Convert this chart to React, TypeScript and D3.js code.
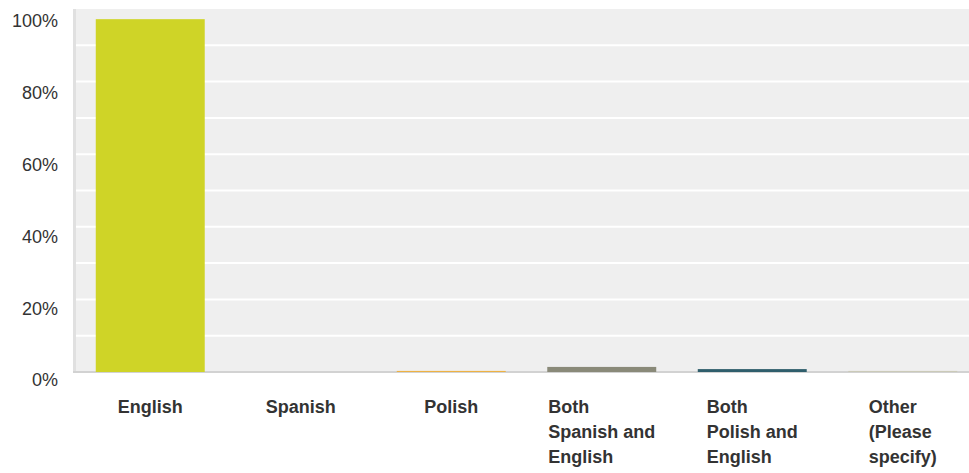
import React from 'react'
import * as d3 from 'd3'

const categories = ['English', 'Spanish', 'Polish', 'Both Spanish and English', 'Both Polish and English', 'Other (Please specify)']
const labelLines = [['English'], ['Spanish'], ['Polish'], ['Both', 'Spanish and', 'English'], ['Both', 'Polish and', 'English'], ['Other', '(Please', 'specify)']]
const values = [97.2, 0, 0.3, 1.4, 0.8, 0.3]
const colors = ['#cfd427', '#c9c9c9', '#eeb243', '#8a8a79', '#2f5e6c', '#cbcab8']
const yTicks = [0, 20, 40, 60, 80, 100]
const gridTicks = [10, 20, 30, 40, 50, 60, 70, 80, 90]

const width = 969
const height = 473

const App: React.FunctionComponent = () => {
  const svgRef = React.useRef<SVGSVGElement>(null)

  React.useEffect(() => {
    const svg = d3.select(svgRef.current)
    svg.selectAll('*').remove()

    const plot = { left: 73, right: 969, top: 9, bottom: 372 }

    const x = d3
      .scaleBand<string>()
      .domain(categories)
      .range([75, 978])
      .paddingInner(0.276)
      .paddingOuter(0.138)

    const y = d3.scaleLinear().domain([0, 100]).range([plot.bottom, plot.top])
    // tick labels sit a little below their gridlines
    const yLabel = d3.scaleLinear().domain([0, 100]).range([380, 21])

    svg
      .append('rect')
      .attr('x', plot.left)
      .attr('y', plot.top)
      .attr('width', plot.right - plot.left)
      .attr('height', plot.bottom - plot.top)
      .attr('fill', '#efefef')

    svg
      .append('g')
      .selectAll('line')
      .data(gridTicks)
      .join('line')
      .attr('x1', plot.left + 3)
      .attr('x2', plot.right)
      .attr('y1', d => y(d))
      .attr('y2', d => y(d))
      .attr('stroke', '#ffffff')
      .attr('stroke-width', 2)

    svg
      .append('line')
      .attr('x1', plot.left + 1.5)
      .attr('x2', plot.left + 1.5)
      .attr('y1', plot.top)
      .attr('y2', plot.bottom)
      .attr('stroke', '#e0e0e0')
      .attr('stroke-width', 3)

    svg
      .append('line')
      .attr('x1', plot.left)
      .attr('x2', plot.right)
      .attr('y1', plot.bottom)
      .attr('y2', plot.bottom)
      .attr('stroke', '#d2d2d2')
      .attr('stroke-width', 2)

    svg
      .append('g')
      .selectAll('rect')
      .data(values)
      .join('rect')
      .attr('x', (_, i) => x(categories[i]) || 0)
      .attr('width', x.bandwidth())
      .attr('y', d => y(d))
      .attr('height', d => plot.bottom - y(d))
      .attr('fill', (_, i) => colors[i])

    svg
      .append('g')
      .selectAll('text')
      .data(yTicks)
      .join('text')
      .attr('x', 58)
      .attr('y', d => yLabel(d))
      .attr('dy', '0.35em')
      .attr('text-anchor', 'end')
      .attr('font-family', 'Arial, "Liberation Sans", sans-serif')
      .attr('font-size', 18)
      .attr('fill', '#333333')
      .text(d => `${d}%`)

    const xLabels = svg
      .append('g')
      .attr('font-family', 'Arial, "Liberation Sans", sans-serif')
      .attr('font-size', 18)
      .attr('font-weight', 'bold')
      .attr('fill', '#333333')

    // lines are left-aligned, the block is centred under its bar
    categories.forEach((c, i) => {
      const cx = (x(c) || 0) + x.bandwidth() / 2
      const t = xLabels.append('text')
      const spans = labelLines[i].map((line, j) =>
        t.append('tspan').attr('y', 413 + j * 25).text(line)
      )
      const w = d3.max(spans, s => (s.node() as SVGTSpanElement).getComputedTextLength()) || 0
      spans.forEach(s => s.attr('x', cx - w / 2))
    })
  }, [])

  return <svg ref={svgRef} width={width} height={height} style={{ position: 'absolute', left: 0, top: 0 }} />
}

export default App
